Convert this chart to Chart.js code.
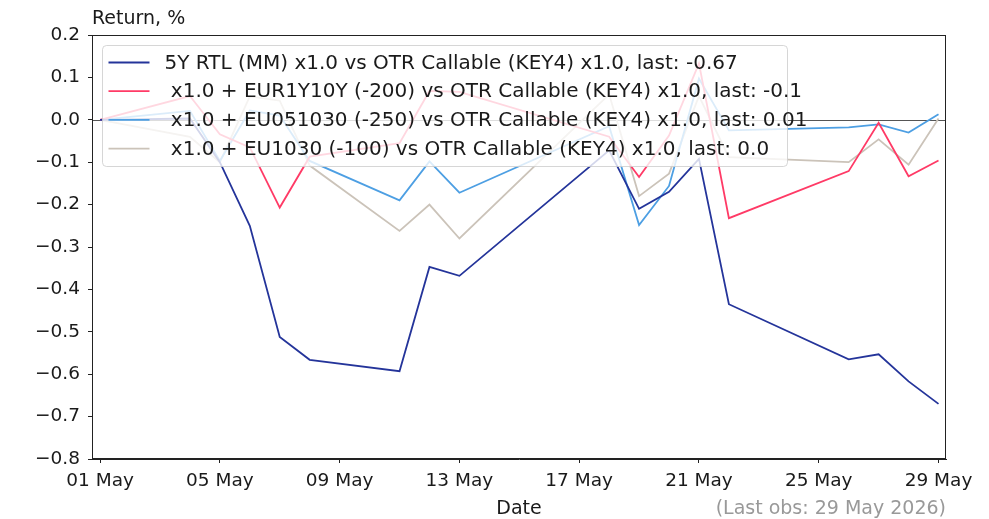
<!DOCTYPE html>
<html>
<head>
<meta charset="utf-8">
<script src="https://cdn.jsdelivr.net/npm/chart.js@4/dist/chart.umd.min.js"></script>
<style>
  html, body { margin: 0; padding: 0; background: #fff; }
  #wrap { width: 989px; height: 519px; }
</style>
</head>
<body>
<div id="wrap"><canvas id="c" width="989" height="519"></canvas></div>
<script>
// ---- data ----
const dates = ['2026-05-01','2026-05-04','2026-05-05','2026-05-06','2026-05-07','2026-05-08',
               '2026-05-11','2026-05-12','2026-05-13','2026-05-18','2026-05-19','2026-05-20',
               '2026-05-21','2026-05-22','2026-05-26','2026-05-27','2026-05-28','2026-05-29'];
const rtl5y     = [0, 0.003, -0.100, -0.250, -0.512, -0.566, -0.593, -0.347, -0.368, -0.072, -0.210, -0.170, -0.092, -0.435, -0.565, -0.553, -0.617, -0.670];
const eur1y10y  = [0, 0.056, -0.034, -0.065, -0.207, -0.087, -0.055, 0.068, 0.066, -0.040, -0.135, -0.037, 0.133, -0.232, -0.121, -0.007, -0.133, -0.096];
const eu051030  = [0, 0.021, -0.097, 0.022, 0.010, -0.097, -0.190, -0.098, -0.172, -0.015, -0.248, -0.156, 0.097, -0.025, -0.018, -0.011, -0.030, 0.013];
const eu1030    = [0, -0.040, -0.100, 0.055, 0.045, -0.108, -0.262, -0.200, -0.280, 0.060, -0.180, -0.127, 0.056, -0.088, -0.100, -0.046, -0.106, 0.003];
const seriesLabels = [
  '5Y RTL (MM) x1.0 vs OTR Callable (KEY4) x1.0, last: -0.67',
  ' x1.0 + EUR1Y10Y (-200) vs OTR Callable (KEY4) x1.0, last: -0.1',
  ' x1.0 + EU051030 (-250) vs OTR Callable (KEY4) x1.0, last: 0.01',
  ' x1.0 + EU1030 (-100) vs OTR Callable (KEY4) x1.0, last: 0.0'
];
const xTickDays   = [1, 5, 9, 13, 17, 21, 25, 29];
const xTickLabels = ['01 May','05 May','09 May','13 May','17 May','21 May','25 May','29 May'];
const yTicks = [-0.8,-0.7,-0.6,-0.5,-0.4,-0.3,-0.2,-0.1,0.0,0.1,0.2];
const yTitle = 'Return, %';
const xTitle = 'Date';
const lastObsNote = '(Last obs: 29 May 2026)';

// ---- build ----
const FONT = 'DejaVu Sans';
const TICK_SIZE = 18.5, TITLE_SIZE = 19, LEGEND_SIZE = 20;
const colors = ['#24349a', '#ff3a66', '#4d9fe3', '#cbc3b9'];
const base = Date.parse('2026-05-01T00:00:00Z');
const xs = dates.map(d => (Date.parse(d + 'T00:00:00Z') - base) / 86400000 + 1);
const allSeries = [rtl5y, eur1y10y, eu051030, eu1030];

const datasets = allSeries.map((s, i) => ({
  label: seriesLabels[i],
  data: s.map((v, j) => ({ x: xs[j], y: v })),
  borderColor: colors[i],
  backgroundColor: colors[i],
  borderWidth: 1.8,
  pointRadius: 0,
  tension: 0,
  fill: false
}));

const overlay = {
  id: 'overlay',
  beforeDatasetsDraw(chart) {
    const { ctx, chartArea: a, scales } = chart;
    const y0 = Math.round(scales.y.getPixelForValue(0)) + 0.5;
    ctx.save();
    ctx.strokeStyle = '#555';
    ctx.lineWidth = 1;
    ctx.beginPath();
    ctx.moveTo(a.left, y0); ctx.lineTo(a.right, y0);
    ctx.stroke();
    ctx.restore();
  },
  afterDatasetsDraw(chart) {
    const { ctx, chartArea: a } = chart;
    ctx.save();
    const bx = a.left + 10.5, by = a.top + 10.5, bw = 685, bh = 121, r = 4;
    ctx.beginPath();
    ctx.moveTo(bx + r, by);
    ctx.lineTo(bx + bw - r, by); ctx.quadraticCurveTo(bx + bw, by, bx + bw, by + r);
    ctx.lineTo(bx + bw, by + bh - r); ctx.quadraticCurveTo(bx + bw, by + bh, bx + bw - r, by + bh);
    ctx.lineTo(bx + r, by + bh); ctx.quadraticCurveTo(bx, by + bh, bx, by + bh - r);
    ctx.lineTo(bx, by + r); ctx.quadraticCurveTo(bx, by, bx + r, by);
    ctx.closePath();
    ctx.fillStyle = 'rgba(255,255,255,0.8)';
    ctx.fill();
    ctx.strokeStyle = 'rgba(204,204,204,0.8)';
    ctx.lineWidth = 1;
    ctx.stroke();
    ctx.font = LEGEND_SIZE + 'px "' + FONT + '"';
    ctx.textBaseline = 'middle';
    ctx.textAlign = 'left';
    chart.data.datasets.forEach((ds, i) => {
      const cy = by + 17 + i * 28.7;
      ctx.strokeStyle = ds.borderColor;
      ctx.lineWidth = 1.8;
      ctx.beginPath();
      ctx.moveTo(bx + 6, cy); ctx.lineTo(bx + 47, cy);
      ctx.stroke();
      ctx.fillStyle = '#1a1a1a';
      ctx.fillText(ds.label, bx + 62, cy + 1);
    });
    ctx.restore();
  },
  afterDraw(chart) {
    const { ctx, chartArea: a } = chart;
    ctx.save();
    ctx.strokeStyle = '#222';
    ctx.lineWidth = 1;
    ctx.strokeRect(Math.round(a.left) + 0.5, Math.round(a.top) + 0.5,
                   Math.round(a.right - a.left) - 1, Math.round(a.bottom - a.top) - 1);
    ctx.font = TITLE_SIZE + 'px "' + FONT + '"';
    ctx.fillStyle = '#1a1a1a';
    ctx.textAlign = 'left';
    ctx.textBaseline = 'alphabetic';
    ctx.fillText(yTitle, a.left, 24);
    ctx.textAlign = 'center';
    ctx.textBaseline = 'middle';
    ctx.fillText(xTitle, (a.left + a.right) / 2, 509);
    ctx.textAlign = 'right';
    ctx.fillStyle = '#999';
    ctx.fillText(lastObsNote, a.right, 509);
    ctx.restore();
  }
};

new Chart(document.getElementById('c'), {
  type: 'line',
  data: { datasets },
  plugins: [overlay],
  options: {
    responsive: false,
    animation: false,
    devicePixelRatio: 1,
    layout: { padding: { top: 35, right: 43, bottom: 0, left: 0 } },
    plugins: { legend: { display: false }, tooltip: { enabled: false }, title: { display: false } },
    scales: {
      x: {
        type: 'linear',
        min: 0.73, max: 29.25,
        grid: { display: true, drawOnChartArea: false, drawTicks: true, tickLength: 4, color: '#222' },
        border: { display: true, color: '#222', width: 1 },
        ticks: {
          autoSkip: false, maxRotation: 0, minRotation: 0, padding: 7,
          color: '#1a1a1a', font: { family: FONT, size: TICK_SIZE },
          callback: (v) => { const k = xTickDays.indexOf(v); return k >= 0 ? xTickLabels[k] : ''; }
        },
        afterBuildTicks: (s) => { s.ticks = xTickDays.map(v => ({ value: v })); },
        afterFit: (s) => { s.height = 60; }
      },
      y: {
        type: 'linear',
        min: -0.8, max: 0.2,
        grid: { display: true, drawOnChartArea: false, drawTicks: true, tickLength: 4, color: '#222' },
        border: { display: true, color: '#222', width: 1 },
        ticks: {
          padding: 8, color: '#1a1a1a', font: { family: FONT, size: TICK_SIZE },
          callback: (v) => { const r = Math.round(v * 10) / 10; return r.toFixed(1).replace('-', '\u2212'); }
        },
        afterBuildTicks: (s) => { s.ticks = yTicks.map(v => ({ value: v })); },
        afterFit: (s) => { s.width = 92; }
      }
    }
  }
});
</script>
</body>
</html>
